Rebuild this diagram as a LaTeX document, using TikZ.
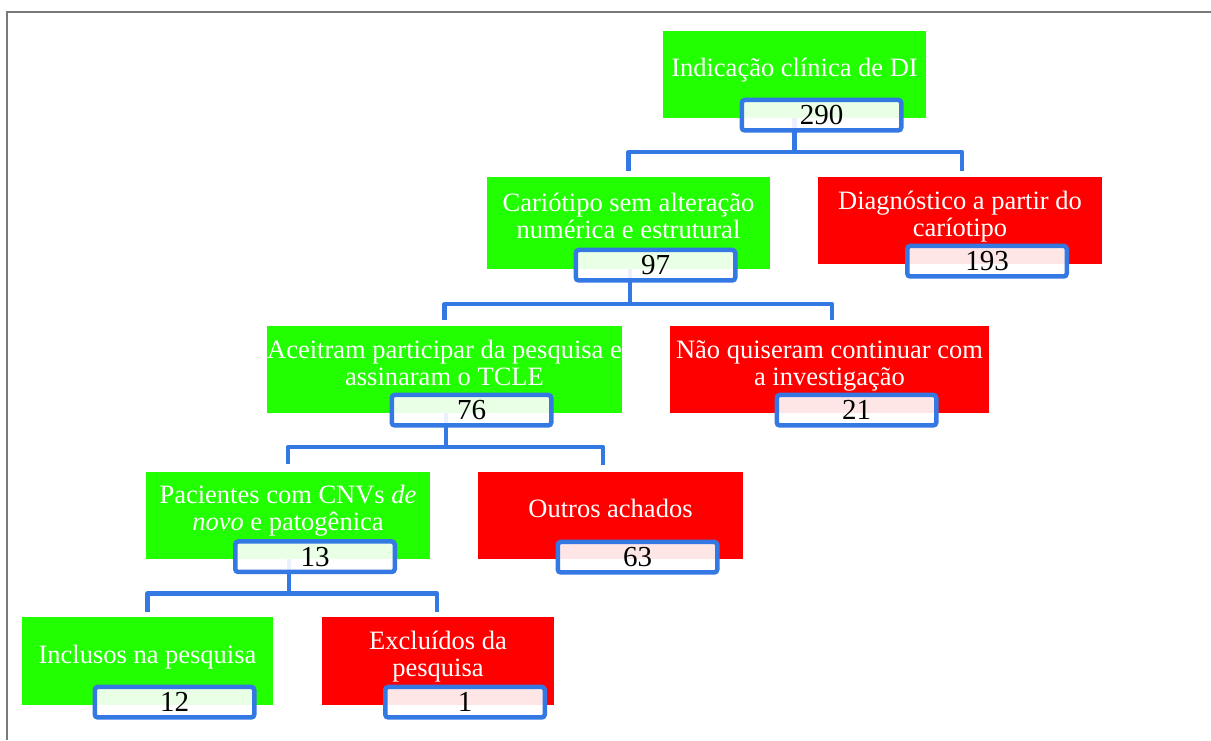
\documentclass[tikz,border=0pt]{standalone}
\usepackage{fontspec}
\setmainfont{Liberation Serif}
\usetikzlibrary{positioning,calc,backgrounds}

\definecolor{boxgreen}{RGB}{34,255,0}
\definecolor{boxred}{RGB}{255,0,0}
\definecolor{linkblue}{RGB}{52,120,228}
\definecolor{framegray}{RGB}{122,122,122}

\tikzset{
    catbox/.style={rectangle, inner sep=0pt, align=center, text=white, font=\fontsize{26.5}{27}\selectfont, text height=18pt, text depth=14pt},
    twoline/.style={text height=45pt},
    greenbox/.style={catbox, fill=boxgreen},
    redbox/.style={catbox, fill=boxred},
    countbox/.style={rectangle, rounded corners=3pt, draw=linkblue, line width=4.5pt, fill=white, fill opacity=0.9, text opacity=1, text=black, minimum width=159.5pt, minimum height=30.5pt, inner sep=0pt, font=\fontsize{29}{29}\selectfont},
    link/.style={draw=linkblue, line width=4.5pt, line join=round}
}

\begin{document}
\begin{tikzpicture}[x=1pt, y=-1pt]
    \useasboundingbox (0,0) rectangle (1211,740);

    % frame
    \draw[framegray, line width=2pt] (7.3,740) -- (7.3,12.3) -- (1211,12.3);

    % level 1
    \node[greenbox, minimum width=263pt, minimum height=87pt] (ind) at (794.5,74.5) {Indicação clínica de DI};
    \node[countbox] (indn) at ([xshift=27pt,yshift=3pt]ind.south) {290};

    % level 2
    \node[greenbox, twoline, minimum width=283pt, minimum height=92pt] (car) at (628.5,223) {Cariótipo sem alteração \\ numérica e estrutural};
    \node[countbox] (carn) at ([xshift=27pt,yshift=4pt]car.south) {97};
    \node[redbox, twoline, minimum width=284pt, minimum height=87pt] (diag) at (960,220.5) {Diagnóstico a partir do \\ caríotipo};
    \node[countbox] (diagn) at ([xshift=27pt,yshift=3pt]diag.south) {193};

    % level 3
    \node[greenbox, twoline, minimum width=355pt, minimum height=87pt] (acc) at (444.5,369.5) {Aceitram participar da pesquisa e \\ assinaram o TCLE};
    \node[countbox] (accn) at ([xshift=27pt,yshift=3pt]acc.south) {76};
    \node[redbox, twoline, minimum width=319pt, minimum height=87pt] (naoq) at (829.5,369.5) {Não quiseram continuar com \\ a investigação};
    \node[countbox] (naoqn) at ([xshift=27pt,yshift=3pt]naoq.south) {21};

    % level 4
    \node[greenbox, twoline, minimum width=284pt, minimum height=87pt] (pac) at (288,515) {Pacientes com CNVs \textit{de} \\ \textit{novo} e patogênica};
    \node[countbox] (pacn) at ([xshift=27pt,yshift=2pt]pac.south) {13};
    \node[redbox, minimum width=265pt, minimum height=87pt] (out) at (610.5,515.5) {Outros achados};
    \node[countbox] (outn) at ([xshift=27pt,yshift=2pt]out.south) {63};

    % level 5
    \node[greenbox, minimum width=251pt, minimum height=88pt] (incl) at (147.5,661) {Inclusos na pesquisa};
    \node[countbox] (incln) at ([xshift=27pt,yshift=3pt]incl.south) {12};
    \node[redbox, twoline, minimum width=232pt, minimum height=88pt] (excl) at (438,661) {Excluídos da \\ pesquisa};
    \node[countbox] (excln) at ([xshift=27pt,yshift=3pt]excl.south) {1};

    % connectors
    \begin{scope}[on background layer]
        \fill[white] (0,0) rectangle (1211,740);
        \draw[link] (ind.south) -- ++(0,34) coordinate (j1);
        \draw[link] ([yshift=6pt]car.north) |- (j1) -| ([xshift=2pt,yshift=6pt]diag.north);
        \draw[link] ([xshift=1.5pt]car.south) -- ++(0,35) coordinate (j2);
        \draw[link] ([yshift=6pt]acc.north) |- (j2) -| ([xshift=2.5pt,yshift=6pt]naoq.north);
        \draw[link] ([xshift=1.5pt]acc.south) -- ++(0,34) coordinate (j3);
        \draw[link] ([yshift=7pt]pac.north) |- (j3) -| ([xshift=-7.5pt,yshift=7pt]out.north);
        \draw[link] ([xshift=1pt]pac.south) -- ++(0,35) coordinate (j4);
        \draw[link] ([yshift=5pt]incl.north) |- (j4) -| ([xshift=-1pt,yshift=5pt]excl.north);
    \end{scope}
\end{tikzpicture}
\end{document}
